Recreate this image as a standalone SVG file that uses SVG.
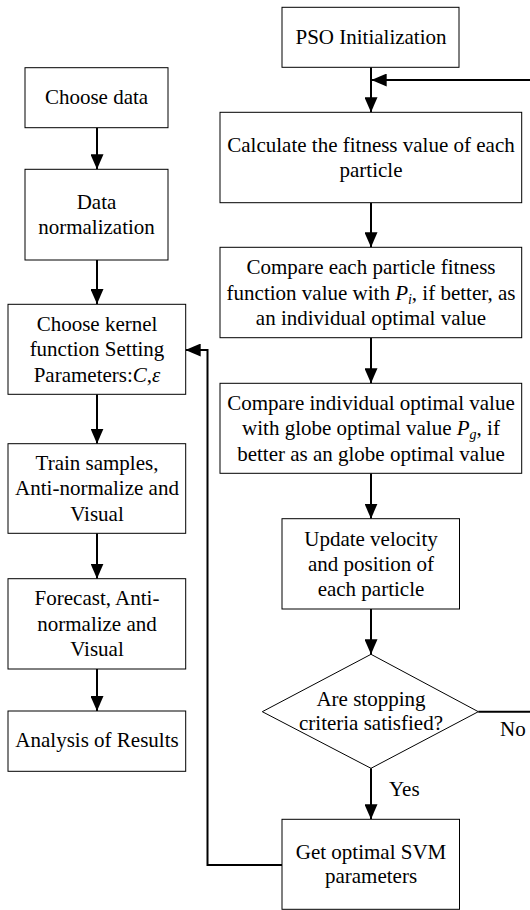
<svg xmlns="http://www.w3.org/2000/svg" width="530" height="910" viewBox="0 0 530 910">
<style>
  .box { fill: #fff; stroke: #000; stroke-width: 1; }
  .t { font-family: "Liberation Serif", "Times New Roman", serif; font-size: 21px; fill: #000; text-anchor: middle; }
  .lbl { font-family: "Liberation Serif", "Times New Roman", serif; font-size: 21px; fill: #000; }
  .c { fill: none; stroke: #000; stroke-width: 2; }
  .i { font-style: italic; }
</style>
<defs>
  <marker id="ah" markerUnits="userSpaceOnUse" markerWidth="15" markerHeight="13" refX="15" refY="6.5" orient="auto">
    <path d="M0,0 L15,6.5 L0,13 z" fill="#000"/>
  </marker>
</defs>
<rect width="530" height="910" fill="#fff"/>

<g id="connectors">
  <path class="c" d="M97,127.7 V169.3" marker-end="url(#ah)"/>
  <path class="c" d="M97,260 V304" marker-end="url(#ah)"/>
  <path class="c" d="M97,394.3 V443.7" marker-end="url(#ah)"/>
  <path class="c" d="M97,533.3 V578.7" marker-end="url(#ah)"/>
  <path class="c" d="M97,669 V711" marker-end="url(#ah)"/>
  <path class="c" d="M371,67.3 V112.3" marker-end="url(#ah)"/>
  <path class="c" d="M371,202.7 V247.3" marker-end="url(#ah)"/>
  <path class="c" d="M371,337.7 V383.3" marker-end="url(#ah)"/>
  <path class="c" d="M371,473.3 V518.7" marker-end="url(#ah)"/>
  <path class="c" d="M371,609 V654.3" marker-end="url(#ah)"/>
  <path class="c" d="M371,768.3 V819.3" marker-end="url(#ah)"/>
  <path class="c" d="M282,865 H207.5 V350 H185.7" marker-end="url(#ah)"/>
  <path class="c" d="M478.3,711.7 H545 V80 H371.7" marker-end="url(#ah)"/>
  <text class="lbl" x="389" y="796">Yes</text>
  <text class="lbl" x="500" y="736">No</text>
</g>

<g id="pso-init">
  <rect class="box" x="282" y="7.3" width="177" height="60"/>
  <text class="t" x="371" y="44.3">PSO Initialization</text>
</g>
<g id="choose-data">
  <rect class="box" x="25" y="67.7" width="143" height="60"/>
  <text class="t" x="96.5" y="104.3">Choose data</text>
</g>
<g id="data-normalization">
  <rect class="box" x="25" y="169.3" width="143" height="90.7"/>
  <text class="t" x="96.5" y="209">Data</text>
  <text class="t" x="96.5" y="234.3">normalization</text>
</g>
<g id="choose-kernel">
  <rect class="box" x="8" y="304.3" width="177.7" height="90"/>
  <text class="t" x="97" y="330.7">Choose kernel</text>
  <text class="t" x="97" y="356.3">function Setting</text>
  <text class="t" x="97" y="381.7">Parameters:<tspan class="i">C</tspan>,<tspan class="i">ε</tspan></text>
</g>
<g id="train-samples">
  <rect class="box" x="8" y="443.7" width="177.7" height="89.6"/>
  <text class="t" x="97" y="470">Train samples,</text>
  <text class="t" x="97" y="495.3">Anti-normalize and</text>
  <text class="t" x="97" y="520.7">Visual</text>
</g>
<g id="forecast">
  <rect class="box" x="8" y="578.7" width="177.7" height="90.3"/>
  <text class="t" x="97" y="605">Forecast, Anti-</text>
  <text class="t" x="97" y="630.7">normalize and</text>
  <text class="t" x="97" y="656">Visual</text>
</g>
<g id="analysis">
  <rect class="box" x="8" y="711" width="177.7" height="60.3"/>
  <text class="t" x="97" y="746.7">Analysis of Results</text>
</g>
<g id="calc-fitness">
  <rect class="box" x="220" y="112.3" width="301.7" height="90.4"/>
  <text class="t" x="371" y="151.7">Calculate the fitness value of each</text>
  <text class="t" x="371" y="176.7">particle</text>
</g>
<g id="compare-each">
  <rect class="box" x="220" y="247.3" width="301.7" height="90.4"/>
  <text class="t" x="371" y="274.3">Compare each particle fitness</text>
  <text class="t" x="371" y="299.7">function value with <tspan class="i">P</tspan><tspan class="i" font-size="14" dy="4">i</tspan><tspan dy="-4">, if better, as</tspan></text>
  <text class="t" x="371" y="325">an individual optimal value</text>
</g>
<g id="compare-individual">
  <rect class="box" x="220" y="383.3" width="301.7" height="90"/>
  <text class="t" x="371" y="410">Compare individual optimal value</text>
  <text class="t" x="371" y="435.3">with globe optimal value <tspan class="i">P</tspan><tspan class="i" font-size="14" dy="4">g</tspan><tspan dy="-4">, if</tspan></text>
  <text class="t" x="371" y="461">better as an globe optimal value</text>
</g>
<g id="update-velocity">
  <rect class="box" x="282" y="518.7" width="177.5" height="90.3"/>
  <text class="t" x="371" y="545.7">Update velocity</text>
  <text class="t" x="371" y="570.7">and position of</text>
  <text class="t" x="371" y="596">each particle</text>
</g>
<g id="stopping">
  <polygon class="box" points="371,654.3 478.3,711.7 371,768.3 262.3,711.7"/>
  <text class="t" x="371" y="706">Are stopping</text>
  <text class="t" x="371" y="730">criteria satisfied?</text>
</g>
<g id="get-svm">
  <rect class="box" x="282" y="819.3" width="177.5" height="90"/>
  <text class="t" x="371" y="859.3">Get optimal SVM</text>
  <text class="t" x="371" y="883.3">parameters</text>
</g>
</svg>
